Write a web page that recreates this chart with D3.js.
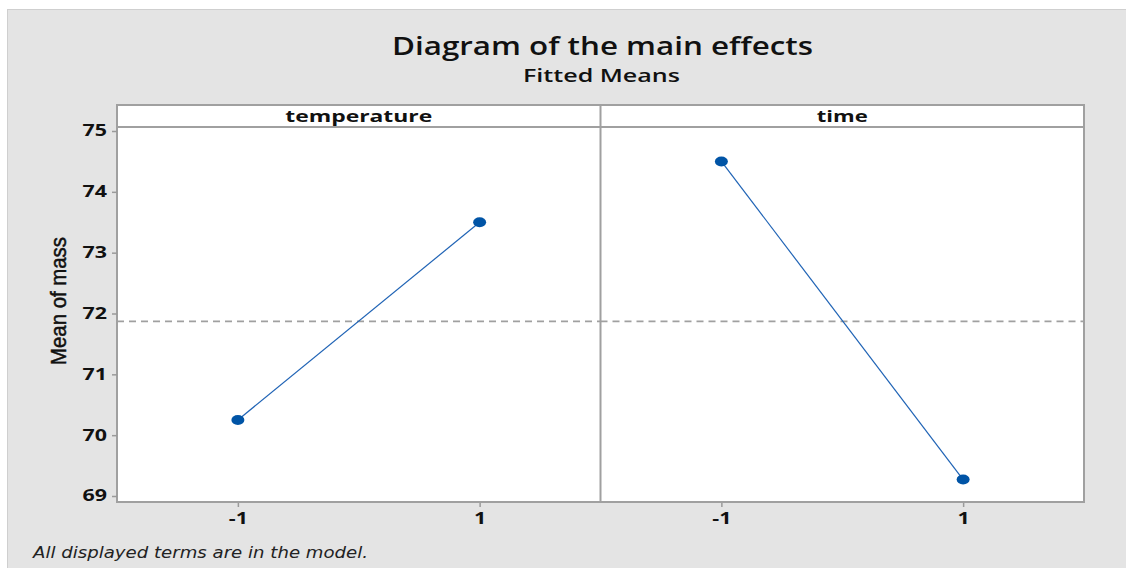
<!DOCTYPE html>
<html><head><meta charset="utf-8">
<script src="https://cdn.jsdelivr.net/npm/d3@7"></script>
<style>body{margin:0;background:#fff}svg{display:block}</style>
</head><body>
<svg id="c" width="1126" height="568"></svg>
<script>
const factors = ["temperature", "time"];
const levels = [-1, 1];
const temperatureMeans = [70.25, 73.5];
const timeMeans = [74.5, 69.27];
const overallMean = 71.87;
const yTicks = [69, 70, 71, 72, 73, 74, 75];
const xTickLabels = ["-1", "1"];
const titleText = "Diagram of the main effects";
const subtitleText = "Fitted Means";
const yLabel = "Mean of mass";
const footnote = "All displayed terms are in the model.";

const series = [temperatureMeans, timeMeans];
const svg = d3.select("#c");
const font = "'Open Sans', 'DejaVu Sans', sans-serif";
const HS = 1.38; // horizontal stretch of the reference picture

function stretch(sel) {
  sel.each(function () {
    const w = this.getComputedTextLength();
    d3.select(this).attr("textLength", w * HS).attr("lengthAdjust", "spacingAndGlyphs");
  });
}

svg.append("rect").attr("x", 7.5).attr("y", 9.5).attr("width", 1130).attr("height", 570)
  .attr("fill", "#e4e4e4").attr("stroke", "#cfcfcf");

const L = 117, R = 1084, T = 105, stripB = 127, B = 502;
const panelW = (R - L) / 2;
const y = d3.scaleLinear().domain([69, 75]).range([496, 131]);

svg.append("text").attr("x", 602.5).attr("y", 55).attr("text-anchor", "middle")
  .attr("font-family", font).attr("font-weight", 600).attr("font-size", 24.5).attr("fill", "#111")
  .text(titleText).attr("textLength", 421).attr("lengthAdjust", "spacingAndGlyphs");
svg.append("text").attr("x", 601.5).attr("y", 82).attr("text-anchor", "middle")
  .attr("font-family", font).attr("font-weight", 600).attr("font-size", 18).attr("fill", "#111")
  .text(subtitleText).attr("textLength", 157).attr("lengthAdjust", "spacingAndGlyphs");

const stripLens = [147, 51];

factors.forEach((f, i) => {
  const x0 = L + i * panelW;
  const x = d3.scaleLinear().domain([-2, 2]).range([x0, x0 + panelW]);
  const g = svg.append("g");
  g.append("rect").attr("x", x0).attr("y", T).attr("width", panelW).attr("height", B - T)
    .attr("fill", "#fff");
  g.append("text").attr("x", x0 + panelW / 2).attr("y", 122).attr("text-anchor", "middle")
    .attr("font-family", font).attr("font-weight", 700).attr("font-size", 16.5).attr("fill", "#111")
    .text(f).attr("textLength", stripLens[i]).attr("lengthAdjust", "spacingAndGlyphs");
  g.append("line").attr("x1", x0).attr("x2", x0 + panelW).attr("y1", y(overallMean)).attr("y2", y(overallMean))
    .attr("stroke", "#a0a0a0").attr("stroke-width", 1.8).attr("stroke-dasharray", "7,5");
  const pts = levels.map((l, j) => [x(l), y(series[i][j])]);
  g.append("path").attr("d", d3.line()(pts)).attr("fill", "none").attr("stroke", "#1f63b5").attr("stroke-width", 1.2);
  g.selectAll("ellipse").data(pts).join("ellipse").attr("cx", d => d[0]).attr("cy", d => d[1])
    .attr("rx", 6.5).attr("ry", 5).attr("fill", "#0054a6");
  const ax = svg.append("g").attr("transform", `translate(0,${B})`)
    .call(d3.axisBottom(x).tickValues(levels).tickSize(5).tickFormat((d, k) => xTickLabels[k]));
  ax.select(".domain").remove();
  ax.selectAll("line").attr("stroke", "#9a9a9a").attr("stroke-width", 1.5);
  ax.selectAll("text").attr("font-family", font).attr("font-weight", 700).attr("font-size", 15.5)
    .attr("fill", "#111").attr("y", 22).attr("dy", 0).call(stretch);
});

const fr = svg.append("g").attr("fill", "none").attr("stroke", "#a0a0a0").attr("stroke-width", 2);
fr.append("rect").attr("x", L).attr("y", T).attr("width", R - L).attr("height", B - T);
fr.append("line").attr("x1", L).attr("x2", R).attr("y1", stripB).attr("y2", stripB);
fr.append("line").attr("x1", L + panelW).attr("x2", L + panelW).attr("y1", T).attr("y2", B);

const ay = svg.append("g").attr("transform", `translate(${L},0)`)
  .call(d3.axisLeft(y).tickValues(yTicks).tickSize(5).tickFormat(d3.format("d")));
ay.select(".domain").remove();
ay.selectAll("line").attr("stroke", "#9a9a9a").attr("stroke-width", 1.5);
ay.selectAll("text").attr("font-family", font).attr("font-weight", 700).attr("font-size", 15.5)
  .attr("fill", "#111").attr("x", -10).call(stretch);

svg.append("text").attr("transform", "translate(66,301) rotate(-90)").attr("text-anchor", "middle")
  .attr("font-family", "'Liberation Sans', Arial, sans-serif").attr("font-size", 22).attr("fill", "#111")
  .attr("stroke", "#111").attr("stroke-width", 0.5)
  .attr("textLength", 128).attr("lengthAdjust", "spacingAndGlyphs").text(yLabel);

svg.append("text").attr("x", 33).attr("y", 558).attr("font-family", "'DejaVu Sans', Verdana, sans-serif")
  .attr("font-style", "italic").attr("font-size", 15).attr("fill", "#222")
  .text(footnote).attr("textLength", 335).attr("lengthAdjust", "spacingAndGlyphs");
</script>
</body></html>
